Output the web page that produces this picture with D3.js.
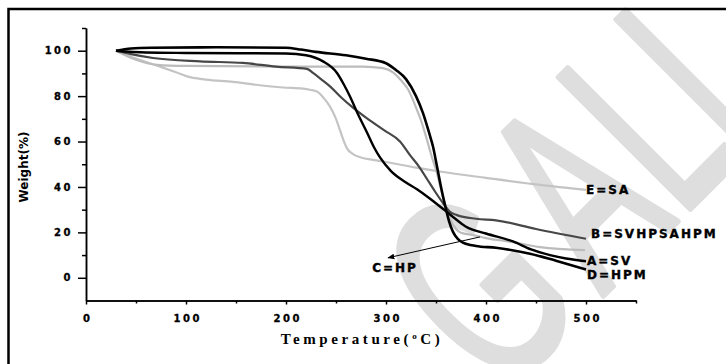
<!DOCTYPE html>
<html>
<head>
<meta charset="utf-8">
<script src="https://cdn.jsdelivr.net/npm/d3@7"></script>
<style>
  body { margin: 0; background: #fff; }
  .tick text { font-family: "DejaVu Sans", sans-serif; font-weight: bold; font-size: 10px; letter-spacing: 2.5px; fill: #000; stroke: #000; stroke-width: 0.3px; }
  .axis path, .axis line { stroke: #000; stroke-width: 1.5px; }
  .lbl { font-family: "DejaVu Sans", sans-serif; font-weight: bold; font-size: 12px; letter-spacing: 2px; fill: #000; stroke: #000; stroke-width: 0.4px; }
  .wm { font-family: "Liberation Sans", Arial, sans-serif; font-size: 270px; fill: #dedede; stroke: #dedede; stroke-width: 6px; stroke-linejoin: round; }
</style>
</head>
<body>
<div id="chart"></div>
<script>
// [temperature °C, mass %]
const curveA = [[30,100],[60,99.2],[100,99],[200,98.8],[220,98],[237,95.3],[251,90.2],[258,85],[264,79.8],[272,72],[281,64],[288,57.5],[294,53],[305,47],[320,42],[331,39],[345,34.5],[358,30],[367,26.8],[380,22.5],[400,19.5],[427,16],[445,12.5],[464,10],[480,8.5],[500,7.3]];
const curveB = [[30,100],[45,98.5],[67,96.8],[114,95.3],[157,94.6],[190,93],[221,92],[227,90.2],[235,87.5],[244,84.3],[255,79.5],[267,74.9],[280,70.5],[298,65],[314,60],[324,54],[333,49],[341,43.5],[349,38],[357,32.9],[364,29],[371,27.6],[390,26],[410,25.3],[450,21.5],[500,17.2]];
const curveC = [[30,100],[50,96],[71,93.8],[100,93.3],[200,93],[277,93],[297,92.3],[307,90.5],[315,87],[322,83],[330,75],[336,68],[341,60.7],[346,53],[351,46],[357,35.5],[364,26],[370,21.5],[375,19.8],[387,18.8],[400,17.5],[427,15.7],[454,13.5],[499,12.2]];
const curveD = [[30,100],[45,101],[65,101.3],[130,101.5],[200,101.3],[215,100.5],[230,99.5],[260,98],[280,96.5],[300,94.5],[310,91.5],[320,87.5],[330,80],[337,72.5],[343,64],[347,57.8],[351,49],[355,40],[359,32],[363,25],[367,20.2],[372,17],[377,15.5],[390,14],[410,13.2],[444,10.6],[470,7.5],[500,3.7]];
const curveE = [[30,100],[50,96.5],[74,93],[90,90.5],[101,88.7],[120,87.3],[147,86.3],[170,85],[197,83.8],[217,83.3],[224,82.8],[231,82],[238,79],[244,75.4],[250,70],[254,65],[258,60],[261,57],[267,54.5],[275,53],[287,51.9],[300,51],[330,48.5],[354,46.8],[400,44],[454,40.9],[500,38.7]];

const seriesNames = ["E=SA", "B=SVHPSAHPM", "C=HP", "A=SV", "D=HPM"];
const xMajor = [0, 100, 200, 300, 400, 500];
const xMinor = [50, 150, 250, 350, 450, 550];
const yMajor = [0, 20, 40, 60, 80, 100];
const yMinor = [10, 30, 50, 70, 90, 110];
const watermark = ["G", "A", "L", "I"];

const width = 726;
const height = 364;

const svg = d3.select("#chart")
    .append("svg")
    .attr("width", width)
    .attr("height", height);

// diagonal watermark, one letter at a time
const wmOffsets = [-273, -129, -19, 61];
const wm = svg.append("g")
    .attr("transform", "translate(685, 197) rotate(-45)");
wm.selectAll("text")
    .data(watermark)
    .enter()
    .append("text")
    .attr("class", "wm")
    .attr("transform", (d, i) => `translate(${wmOffsets[i]}, 12) scale(0.6, 1)`)
    .text(d => d);

// outer frame (only left and top show in the picture)
svg.append("rect")
    .attr("x", 8.5).attr("y", 9)
    .attr("width", 760).attr("height", 400)
    .attr("fill", "none")
    .attr("stroke", "#000")
    .attr("stroke-width", 2.5);

const xScale = d3.scaleLinear().domain([0, 550]).range([86, 636]);
const yScale = d3.scaleLinear().domain([-10, 110]).range([300.5, 28]);

// axes
svg.append("g")
    .attr("class", "axis")
    .attr("transform", `translate(0, ${yScale(-10)})`)
    .call(d3.axisBottom(xScale).tickValues(xMinor).tickSize(3).tickSizeOuter(0).tickFormat(""));

svg.append("g")
    .attr("class", "axis")
    .attr("transform", `translate(0, ${yScale(-10)})`)
    .call(d3.axisBottom(xScale).tickValues(xMajor).tickSize(4).tickSizeOuter(0).tickPadding(10))
    .call(g => g.selectAll("text").attr("dx", "1.2px"));

svg.append("g")
    .attr("class", "axis")
    .attr("transform", `translate(${xScale(0)}, 0)`)
    .call(d3.axisLeft(yScale).tickValues(yMinor).tickSize(4).tickSizeOuter(0).tickFormat(""));

svg.append("g")
    .attr("class", "axis")
    .attr("transform", `translate(${xScale(0)}, 0)`)
    .call(d3.axisLeft(yScale).tickValues(yMajor).tickSize(8).tickSizeOuter(0).tickPadding(5));

// axis titles
const xTitle = svg.append("text")
    .attr("x", 362).attr("y", 344)
    .attr("text-anchor", "middle")
    .style("font-family", "'Liberation Serif', serif")
    .style("font-weight", "bold")
    .style("font-size", "15px")
    .style("letter-spacing", "3.6px");
xTitle.append("tspan").text("Temperature(");
xTitle.append("tspan").attr("dy", -5).style("font-size", "9px").text("o");
xTitle.append("tspan").attr("dy", 5).text("C)");

svg.append("text")
    .attr("transform", "translate(28, 167) rotate(-90)")
    .attr("text-anchor", "middle")
    .style("font-family", "'DejaVu Sans', sans-serif")
    .style("font-weight", "bold")
    .style("font-size", "12px")
    .text("Weight(%)");

// curves
const line = d3.line()
    .x(d => xScale(d[0]))
    .y(d => yScale(d[1]))
    .curve(d3.curveMonotoneX);

const curves = [
    { data: curveE, color: "#c4c4c4", w: 2.2 },
    { data: curveC, color: "#bcbcbc", w: 2.2 },
    { data: curveB, color: "#474747", w: 2.2 },
    { data: curveA, color: "#000", w: 2.4 },
    { data: curveD, color: "#000", w: 2.6 }
];

svg.selectAll(".curve")
    .data(curves)
    .enter()
    .append("path")
    .attr("class", "curve")
    .attr("d", d => line(d.data))
    .attr("fill", "none")
    .attr("stroke", d => d.color)
    .attr("stroke-width", d => d.w)
    .attr("stroke-linejoin", "round");

// end labels
const endLabels = [
    { name: seriesNames[0], t: 500, m: 39 },
    { name: seriesNames[1], t: 505, m: 19.4 },
    { name: seriesNames[3], t: 501, m: 7.8 },
    { name: seriesNames[4], t: 501, m: 1.3 }
];

svg.selectAll(".end-label")
    .data(endLabels)
    .enter()
    .append("text")
    .attr("class", "lbl")
    .attr("x", d => xScale(d.t))
    .attr("y", d => yScale(d.m))
    .attr("dy", "0.38em")
    .text(d => d.name);

// arrow for C=HP
svg.append("defs").append("marker")
    .attr("id", "arr")
    .attr("viewBox", "0 0 10 10")
    .attr("refX", 9).attr("refY", 5)
    .attr("markerWidth", 7).attr("markerHeight", 7)
    .attr("orient", "auto")
    .append("path")
    .attr("d", "M0,1 L10,5 L0,9 Z")
    .attr("fill", "#000");

svg.append("line")
    .attr("x1", xScale(394)).attr("y1", yScale(18))
    .attr("x2", xScale(302)).attr("y2", yScale(8.8))
    .attr("stroke", "#000")
    .attr("stroke-width", 1)
    .attr("marker-end", "url(#arr)");

svg.append("text")
    .attr("class", "lbl")
    .attr("x", xScale(309)).attr("y", yScale(4.6))
    .attr("dy", "0.38em")
    .attr("text-anchor", "middle")
    .text(seriesNames[2]);
</script>
</body>
</html>
